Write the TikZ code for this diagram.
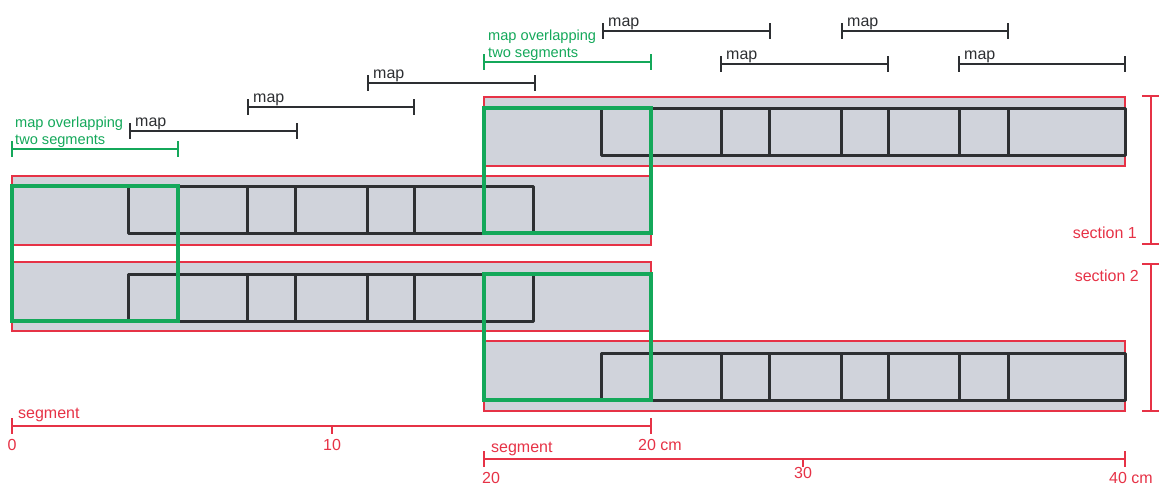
\documentclass[tikz,border=0pt]{standalone}
\usepackage{fontspec}
\setmainfont{Liberation Sans}
\definecolor{segred}{RGB}{230,50,70}
\definecolor{mapgreen}{RGB}{20,168,90}
\definecolor{seggray}{RGB}{208,211,219}
\definecolor{mapblack}{RGB}{45,47,50}
\newcommand\mapbar[5]{%
  \draw[barline,#4] (#1,#3) -- (#2,#3);
  \draw[barline,#4] (#1,#3-8) -- (#1,#3+8);
  \draw[barline,#4] (#2,#3-8) -- (#2,#3+8);
}
\begin{document}
\begin{tikzpicture}[x=1pt,y=-1pt,
  segbox/.style={fill=seggray, draw=segred, line width=1.5pt},
  maprow/.style={draw=mapblack, line width=3pt, line join=round},
  greenbox/.style={draw=mapgreen, line width=3.5pt},
  barline/.style={line width=1.3pt},
  axisline/.style={draw=segred, line width=1.4pt},
  blacktxt/.style={text=mapblack, font=\fontsize{16}{19}\selectfont, inner sep=0pt, anchor=base west},
  greentxt/.style={text=mapgreen, font=\fontsize{14.6}{17}\selectfont, inner sep=0pt, anchor=base west},
  redtxt/.style={text=segred, font=\fontsize{16}{19}\selectfont, inner sep=0pt}]
\useasboundingbox (0,0) rectangle (1159,485);

% segments
\draw[segbox] (12,176) rectangle (651,245);
\draw[segbox] (12,262) rectangle (651,331);
\draw[segbox] (484,97) rectangle (1125,166);
\draw[segbox] (484,341) rectangle (1125,411);

% map rows
\draw[maprow] (128,186) rectangle (533,233);
\foreach \x in {247,295,367,414} \draw[maprow] (\x,186) -- (\x,233);
\draw[maprow] (128,274) rectangle (533,321);
\foreach \x in {247,295,367,414} \draw[maprow] (\x,274) -- (\x,321);
\draw[maprow] (601,108) rectangle (1125,155);
\foreach \x in {721,769,841,888,959,1008} \draw[maprow] (\x,108) -- (\x,155);
\draw[maprow] (601,353) rectangle (1125,400);
\foreach \x in {721,769,841,888,959,1008} \draw[maprow] (\x,353) -- (\x,400);

% green overlapping maps
\draw[greenbox] (12,186) rectangle (178,321);
\draw[greenbox] (484,108) rectangle (651,233);
\draw[greenbox] (484,274) rectangle (651,400);

% map bars
\mapbar{130}{297}{131}{mapblack}{}
\mapbar{248}{414}{107}{mapblack}{}
\mapbar{368}{535}{83}{mapblack}{}
\mapbar{603}{770}{31}{mapblack}{}
\mapbar{721}{888}{64}{mapblack}{}
\mapbar{842}{1008}{31}{mapblack}{}
\mapbar{959}{1125}{64}{mapblack}{}
\node[blacktxt] (m1) at (135,126) {map};
\node[blacktxt] (m2) at (253,102) {map};
\node[blacktxt] (m3) at (373,78) {map};
\node[blacktxt] (m4) at (608,26) {map};
\node[blacktxt] (m5) at (726,59) {map};
\node[blacktxt] (m6) at (847,26) {map};
\node[blacktxt] (m7) at (964,59) {map};

\mapbar{12}{178}{149}{mapgreen}{}
\mapbar{484}{651}{62}{mapgreen}{}
\node[greentxt] (g1a) at (15,127) {map overlapping};
\node[greentxt] (g1b) at (15,144) {two segments};
\node[greentxt] (g2a) at (488,40) {map overlapping};
\node[greentxt] (g2b) at (488,57) {two segments};

% axis 1
\draw[axisline] (12,426) -- (651,426);
\draw[axisline] (12,418) -- (12,434);
\draw[axisline] (332,426) -- (332,434);
\draw[axisline] (651,418) -- (651,434);
\node[redtxt, anchor=base west] (s1) at (18,418) {segment};
\node[redtxt, anchor=base] (t0) at (12,450) {0};
\node[redtxt, anchor=base] (t10) at (332,450) {10};
\node[redtxt, anchor=base west] (t20) at (638,450) {20 cm};

% axis 2
\draw[axisline] (484,459) -- (1125,459);
\draw[axisline] (484,451) -- (484,467);
\draw[axisline] (803,459) -- (803,467);
\draw[axisline] (1125,451) -- (1125,467);
\node[redtxt, anchor=base west] (s2) at (491,452) {segment};
\node[redtxt, anchor=base west] (u20) at (482,483) {20};
\node[redtxt, anchor=base] (u30) at (803,478) {30};
\node[redtxt, anchor=base west] (u40) at (1109,483) {40 cm};

% sections
\draw[axisline] (1151,96) -- (1151,244);
\draw[axisline] (1142,96) -- (1159,96);
\draw[axisline] (1142,244) -- (1159,244);
\node[redtxt, anchor=base east] (sec1) at (1137,238) {section 1};
\draw[axisline] (1151,264) -- (1151,411);
\draw[axisline] (1142,264) -- (1159,264);
\draw[axisline] (1142,411) -- (1159,411);
\node[redtxt, anchor=base east] (sec2) at (1139,281) {section 2};
\end{tikzpicture}
\end{document}
